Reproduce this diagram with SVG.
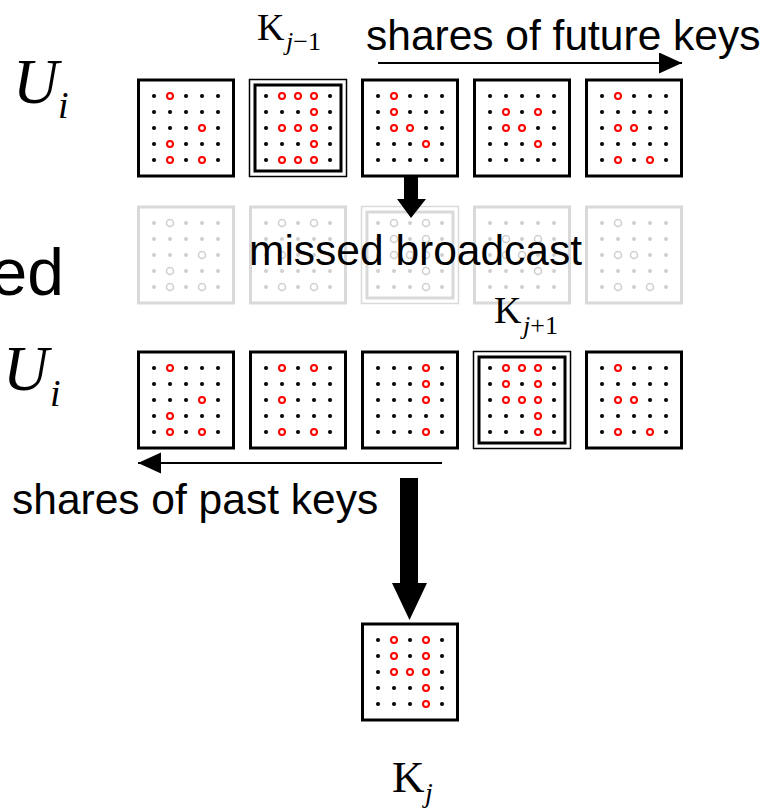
<svg xmlns="http://www.w3.org/2000/svg" width="765" height="810" viewBox="0 0 765 810">
  <style>
    .box { fill: #fff; stroke: #000; stroke-width: 3; }
    .thin { fill: #fff; stroke: #000; stroke-width: 1.5; }
    .inner { fill: none; stroke: #000; stroke-width: 3; }
    .fbox { fill: #fff; stroke: #d9d9d9; stroke-width: 3; }
    .fthin { fill: #fff; stroke: #d9d9d9; stroke-width: 1.5; }
    .finner { fill: none; stroke: #d9d9d9; stroke-width: 3; }
    .o { fill: #fff; stroke: #f00; stroke-width: 2; }
    .fo { fill: #fff; stroke: #cfcfcf; stroke-width: 1.5; }
    .sans { font-family: "Liberation Sans", Arial, sans-serif; font-size: 42.5px; fill: #000; }
    .big { font-size: 66px; }
    .serif { font-family: "Liberation Serif", "Times New Roman", serif; fill: #000; }
    .it { font-style: italic; }
    .line { stroke: #000; stroke-width: 2; fill: none; }
  </style>
  <defs>
    <!-- 5x5 dot lattice, 16px pitch, centred on the origin -->
    <g id="dots" fill="#000">
      <circle cx="-32" cy="-32" r="2"/><circle cx="-16" cy="-32" r="2"/><circle cx="0" cy="-32" r="2"/><circle cx="16" cy="-32" r="2"/><circle cx="32" cy="-32" r="2"/>
      <circle cx="-32" cy="-16" r="2"/><circle cx="-16" cy="-16" r="2"/><circle cx="0" cy="-16" r="2"/><circle cx="16" cy="-16" r="2"/><circle cx="32" cy="-16" r="2"/>
      <circle cx="-32" cy="0" r="2"/><circle cx="-16" cy="0" r="2"/><circle cx="0" cy="0" r="2"/><circle cx="16" cy="0" r="2"/><circle cx="32" cy="0" r="2"/>
      <circle cx="-32" cy="16" r="2"/><circle cx="-16" cy="16" r="2"/><circle cx="0" cy="16" r="2"/><circle cx="16" cy="16" r="2"/><circle cx="32" cy="16" r="2"/>
      <circle cx="-32" cy="32" r="2"/><circle cx="-16" cy="32" r="2"/><circle cx="0" cy="32" r="2"/><circle cx="16" cy="32" r="2"/><circle cx="32" cy="32" r="2"/>
    </g>
    <!-- same lattice in the washed-out grey -->
    <g id="fgrid" fill="#d0d0d0">
      <circle cx="-32" cy="-32" r="2"/><circle cx="-16" cy="-32" r="2"/><circle cx="0" cy="-32" r="2"/><circle cx="16" cy="-32" r="2"/><circle cx="32" cy="-32" r="2"/>
      <circle cx="-32" cy="-16" r="2"/><circle cx="-16" cy="-16" r="2"/><circle cx="0" cy="-16" r="2"/><circle cx="16" cy="-16" r="2"/><circle cx="32" cy="-16" r="2"/>
      <circle cx="-32" cy="0" r="2"/><circle cx="-16" cy="0" r="2"/><circle cx="0" cy="0" r="2"/><circle cx="16" cy="0" r="2"/><circle cx="32" cy="0" r="2"/>
      <circle cx="-32" cy="16" r="2"/><circle cx="-16" cy="16" r="2"/><circle cx="0" cy="16" r="2"/><circle cx="16" cy="16" r="2"/><circle cx="32" cy="16" r="2"/>
      <circle cx="-32" cy="32" r="2"/><circle cx="-16" cy="32" r="2"/><circle cx="0" cy="32" r="2"/><circle cx="16" cy="32" r="2"/><circle cx="32" cy="32" r="2"/>
    </g>
    <marker id="head" markerUnits="userSpaceOnUse" markerWidth="24" markerHeight="22" refX="23" refY="10.5" orient="auto">
      <path d="M0,0 L23,10.5 L0,21 Z" fill="#000"/>
    </marker>
  </defs>

  <!-- side labels -->
  <g id="label-user-top">
    <text class="serif it" x="13" y="103" font-size="63">U</text>
    <text class="serif it" x="58" y="118" font-size="38">i</text>
  </g>
  <g id="label-user-bottom">
    <text class="serif it" x="3" y="390" font-size="63">U</text>
    <text class="serif it" x="50" y="406" font-size="38">i</text>
  </g>
  <text id="label-ed" class="sans big" x="64" y="295" text-anchor="end">ed</text>

  <!-- missed (faded) row -->
  <g id="missed-1" transform="translate(186,255)">
    <rect class="fbox" x="-47.5" y="-48" width="95" height="96"/>
    <use href="#fgrid"/>
    <circle class="fo" cx="-16" cy="-32" r="3.5"/><circle class="fo" cx="16" cy="0" r="3.5"/><circle class="fo" cx="-16" cy="16" r="3.5"/><circle class="fo" cx="-16" cy="32" r="3.5"/><circle class="fo" cx="16" cy="32" r="3.5"/>
  </g>
  <g id="missed-2" transform="translate(298,255)">
    <rect class="fbox" x="-47.5" y="-48" width="95" height="96"/>
    <use href="#fgrid"/>
    <circle class="fo" cx="-16" cy="-32" r="3.5"/><circle class="fo" cx="16" cy="-32" r="3.5"/><circle class="fo" cx="-16" cy="0" r="3.5"/><circle class="fo" cx="-16" cy="32" r="3.5"/><circle class="fo" cx="16" cy="32" r="3.5"/>
  </g>
  <g id="missed-3" transform="translate(410,255)">
    <rect class="fthin" x="-48.5" y="-48.5" width="97" height="97"/>
    <rect class="finner" x="-43" y="-43" width="86" height="86"/>
    <use href="#fgrid"/>
    <circle class="fo" cx="-16" cy="-32" r="3.5"/><circle class="fo" cx="16" cy="-32" r="3.5"/>
    <circle class="fo" cx="-16" cy="-16" r="3.5"/><circle class="fo" cx="16" cy="-16" r="3.5"/>
    <circle class="fo" cx="-16" cy="0" r="3.5"/><circle class="fo" cx="0" cy="0" r="3.5"/><circle class="fo" cx="16" cy="0" r="3.5"/>
    <circle class="fo" cx="16" cy="16" r="3.5"/><circle class="fo" cx="16" cy="32" r="3.5"/>
  </g>
  <g id="missed-4" transform="translate(522,255)">
    <rect class="fbox" x="-47.5" y="-48" width="95" height="96"/>
    <use href="#fgrid"/>
    <circle class="fo" cx="-16" cy="-16" r="3.5"/><circle class="fo" cx="16" cy="-16" r="3.5"/><circle class="fo" cx="-16" cy="0" r="3.5"/><circle class="fo" cx="0" cy="0" r="3.5"/><circle class="fo" cx="16" cy="16" r="3.5"/>
  </g>
  <g id="missed-5" transform="translate(634,255)">
    <rect class="fbox" x="-47.5" y="-48" width="95" height="96"/>
    <use href="#fgrid"/>
    <circle class="fo" cx="-16" cy="-32" r="3.5"/><circle class="fo" cx="-16" cy="0" r="3.5"/><circle class="fo" cx="0" cy="0" r="3.5"/><circle class="fo" cx="-16" cy="32" r="3.5"/><circle class="fo" cx="16" cy="32" r="3.5"/>
  </g>

  <!-- upper row of shares -->
  <g id="top-1" transform="translate(186,128)">
    <rect class="box" x="-47.5" y="-48" width="95" height="96"/>
    <use href="#dots"/>
    <circle class="o" cx="-16" cy="-32" r="3"/><circle class="o" cx="16" cy="0" r="3"/><circle class="o" cx="-16" cy="16" r="3"/><circle class="o" cx="-16" cy="32" r="3"/><circle class="o" cx="16" cy="32" r="3"/>
  </g>
  <g id="top-2-key-prev" transform="translate(298,128)">
    <rect class="thin" x="-48.5" y="-48.5" width="97" height="97"/>
    <rect class="inner" x="-43" y="-43" width="86" height="86"/>
    <use href="#dots"/>
    <circle class="o" cx="-16" cy="-32" r="3"/><circle class="o" cx="0" cy="-32" r="3"/><circle class="o" cx="16" cy="-32" r="3"/>
    <circle class="o" cx="16" cy="-16" r="3"/>
    <circle class="o" cx="-16" cy="0" r="3"/><circle class="o" cx="0" cy="0" r="3"/><circle class="o" cx="16" cy="0" r="3"/>
    <circle class="o" cx="16" cy="16" r="3"/>
    <circle class="o" cx="-16" cy="32" r="3"/><circle class="o" cx="0" cy="32" r="3"/><circle class="o" cx="16" cy="32" r="3"/>
  </g>
  <g id="top-3" transform="translate(410,128)">
    <rect class="box" x="-47.5" y="-48" width="95" height="96"/>
    <use href="#dots"/>
    <circle class="o" cx="-16" cy="-32" r="3"/><circle class="o" cx="-16" cy="-16" r="3"/><circle class="o" cx="-16" cy="0" r="3"/><circle class="o" cx="0" cy="0" r="3"/><circle class="o" cx="16" cy="16" r="3"/>
  </g>
  <g id="top-4" transform="translate(522,128)">
    <rect class="box" x="-47.5" y="-48" width="95" height="96"/>
    <use href="#dots"/>
    <circle class="o" cx="-16" cy="-16" r="3"/><circle class="o" cx="16" cy="-16" r="3"/><circle class="o" cx="-16" cy="0" r="3"/><circle class="o" cx="0" cy="0" r="3"/><circle class="o" cx="16" cy="16" r="3"/>
  </g>
  <g id="top-5" transform="translate(634,128)">
    <rect class="box" x="-47.5" y="-48" width="95" height="96"/>
    <use href="#dots"/>
    <circle class="o" cx="-16" cy="-32" r="3"/><circle class="o" cx="-16" cy="0" r="3"/><circle class="o" cx="0" cy="0" r="3"/><circle class="o" cx="-16" cy="32" r="3"/><circle class="o" cx="16" cy="32" r="3"/>
  </g>

  <!-- lower row of shares -->
  <g id="bottom-1" transform="translate(186,400)">
    <rect class="box" x="-47.5" y="-48" width="95" height="96"/>
    <use href="#dots"/>
    <circle class="o" cx="-16" cy="-32" r="3"/><circle class="o" cx="16" cy="0" r="3"/><circle class="o" cx="-16" cy="16" r="3"/><circle class="o" cx="-16" cy="32" r="3"/><circle class="o" cx="16" cy="32" r="3"/>
  </g>
  <g id="bottom-2" transform="translate(298,400)">
    <rect class="box" x="-47.5" y="-48" width="95" height="96"/>
    <use href="#dots"/>
    <circle class="o" cx="-16" cy="-32" r="3"/><circle class="o" cx="16" cy="-32" r="3"/><circle class="o" cx="-16" cy="0" r="3"/><circle class="o" cx="-16" cy="32" r="3"/><circle class="o" cx="16" cy="32" r="3"/>
  </g>
  <g id="bottom-3" transform="translate(410,400)">
    <rect class="box" x="-47.5" y="-48" width="95" height="96"/>
    <use href="#dots"/>
    <circle class="o" cx="16" cy="-32" r="3"/><circle class="o" cx="16" cy="-16" r="3"/><circle class="o" cx="16" cy="0" r="3"/><circle class="o" cx="16" cy="32" r="3"/>
  </g>
  <g id="bottom-4-key-next" transform="translate(522,400)">
    <rect class="thin" x="-48.5" y="-48.5" width="97" height="97"/>
    <rect class="inner" x="-43" y="-43" width="86" height="86"/>
    <use href="#dots"/>
    <circle class="o" cx="-16" cy="-32" r="3"/><circle class="o" cx="0" cy="-32" r="3"/><circle class="o" cx="16" cy="-32" r="3"/>
    <circle class="o" cx="-16" cy="-16" r="3"/><circle class="o" cx="16" cy="-16" r="3"/>
    <circle class="o" cx="-16" cy="0" r="3"/><circle class="o" cx="0" cy="0" r="3"/><circle class="o" cx="16" cy="0" r="3"/>
    <circle class="o" cx="16" cy="16" r="3"/>
    <circle class="o" cx="16" cy="32" r="3"/>
  </g>
  <g id="bottom-5" transform="translate(634,400)">
    <rect class="box" x="-47.5" y="-48" width="95" height="96"/>
    <use href="#dots"/>
    <circle class="o" cx="-16" cy="-32" r="3"/><circle class="o" cx="-16" cy="0" r="3"/><circle class="o" cx="0" cy="0" r="3"/><circle class="o" cx="-16" cy="32" r="3"/><circle class="o" cx="16" cy="32" r="3"/>
  </g>

  <!-- recovered key -->
  <g id="key-j" transform="translate(410,672)">
    <rect class="box" x="-47.5" y="-48" width="95" height="96"/>
    <use href="#dots"/>
    <circle class="o" cx="-16" cy="-32" r="3"/><circle class="o" cx="16" cy="-32" r="3"/>
    <circle class="o" cx="-16" cy="-16" r="3"/><circle class="o" cx="16" cy="-16" r="3"/>
    <circle class="o" cx="-16" cy="0" r="3"/><circle class="o" cx="0" cy="0" r="3"/><circle class="o" cx="16" cy="0" r="3"/>
    <circle class="o" cx="16" cy="16" r="3"/>
    <circle class="o" cx="16" cy="32" r="3"/>
  </g>

  <!-- connectors -->
  <g id="connectors">
    <line class="line" x1="378" y1="63" x2="682" y2="63" marker-end="url(#head)"/>
    <line class="line" x1="442" y1="463" x2="138" y2="463" marker-end="url(#head)"/>
    <path d="M404,177 H418 V199 H426 L411,218 L397,199 H404 Z" fill="#000"/>
    <path d="M400,478 H418 V583 H427 L409.5,620 L392,583 H400 Z" fill="#000"/>
  </g>

  <!-- captions -->
  <text class="sans" x="366" y="50">shares of future keys</text>
  <text class="sans" x="249" y="265">missed broadcast</text>
  <text class="sans" x="12" y="514">shares of past keys</text>

  <g id="label-key-prev">
    <text class="serif" x="257" y="40" font-size="38">K</text>
    <text class="serif" x="286" y="50" font-size="26"><tspan class="it">j</tspan>−1</text>
  </g>
  <g id="label-key-next">
    <text class="serif" x="494" y="323" font-size="38">K</text>
    <text class="serif" x="523" y="334" font-size="26"><tspan class="it">j</tspan>+1</text>
  </g>
  <g id="label-key-j">
    <text class="serif" x="392" y="792" font-size="45">K</text>
    <text class="serif it" x="425" y="802" font-size="28">j</text>
  </g>
</svg>
